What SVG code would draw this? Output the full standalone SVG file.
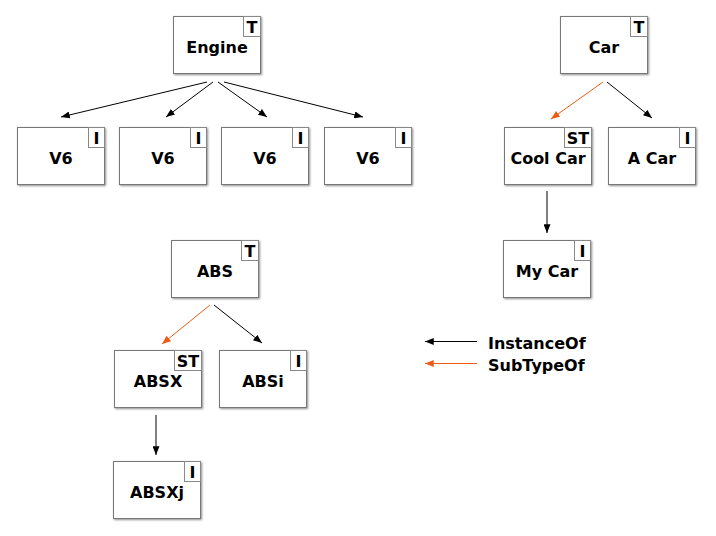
<svg xmlns="http://www.w3.org/2000/svg" width="716" height="536" viewBox="0 0 716 536">
<style>
.box{fill:#fff;stroke:#777;stroke-width:1;filter:url(#sh)}
.badge{fill:#fff;stroke:#888;stroke-width:1}
.lbl{font-family:"DejaVu Sans",Verdana,sans-serif;font-weight:bold;font-size:16px;fill:#000;text-anchor:middle}
.bt{font-family:"DejaVu Sans",Verdana,sans-serif;font-weight:bold;font-size:16px;fill:#000;text-anchor:middle}
.leg{font-family:"DejaVu Sans",Verdana,sans-serif;font-weight:bold;font-size:16px;fill:#000}
.inst{stroke:#000;stroke-width:1;fill:none;marker-end:url(#ab)}
.sub{stroke:#f05a14;stroke-width:1;fill:none;marker-end:url(#ao)}
</style>
<defs>
<filter id="sh" x="-10%" y="-10%" width="125%" height="130%">
<feDropShadow dx="1" dy="1" stdDeviation="1.3" flood-color="#000" flood-opacity="0.45"/>
</filter>
<marker id="ab" viewBox="0 0 10 8" refX="10" refY="4" markerWidth="9" markerHeight="7" markerUnits="userSpaceOnUse" orient="auto">
<path d="M0,0 L10,4 L0,8 Z" fill="#000"/>
</marker>
<marker id="ao" viewBox="0 0 10 8" refX="10" refY="4" markerWidth="9" markerHeight="7" markerUnits="userSpaceOnUse" orient="auto">
<path d="M0,0 L10,4 L0,8 Z" fill="#f05a14"/>
</marker>
</defs>
<rect width="716" height="536" fill="#fff"/>
<g id="connectors">
<line class="inst" x1="207" y1="82" x2="61" y2="117"/>
<line class="inst" x1="213" y1="82" x2="166" y2="117"/>
<line class="inst" x1="218" y1="82" x2="267" y2="117"/>
<line class="inst" x1="224" y1="82" x2="363" y2="117"/>
<line class="sub" x1="603" y1="82" x2="551" y2="119"/>
<line class="inst" x1="607" y1="82" x2="652" y2="118"/>
<line class="inst" x1="547" y1="191" x2="547" y2="233"/>
<line class="sub" x1="210" y1="305" x2="162" y2="344"/>
<line class="inst" x1="214" y1="305" x2="262" y2="343"/>
<line class="inst" x1="156" y1="415" x2="156" y2="455"/>
<line class="inst" x1="477" y1="341.5" x2="425" y2="341.5"/>
<line class="sub" x1="477" y1="363.5" x2="425" y2="363.5"/>
</g>
<g id="legend">
<text class="leg" x="488" y="349">InstanceOf</text>
<text class="leg" x="488" y="371">SubTypeOf</text>
</g>
<g id="engine"><rect class="box" x="173.5" y="16.5" width="87" height="57"/><rect class="badge" x="243.5" y="16.5" width="17" height="20"/><text class="bt" x="252" y="33">T</text><text class="lbl" x="217" y="53">Engine</text></g>
<g id="car"><rect class="box" x="560.5" y="16.5" width="87" height="57"/><rect class="badge" x="630.5" y="16.5" width="17" height="20"/><text class="bt" x="639" y="33">T</text><text class="lbl" x="604" y="53">Car</text></g>
<g id="v6a"><rect class="box" x="17.5" y="127.5" width="87" height="57"/><rect class="badge" x="88.5" y="127.5" width="16" height="20"/><text class="bt" x="96.5" y="144">I</text><text class="lbl" x="61" y="164">V6</text></g>
<g id="v6b"><rect class="box" x="119.5" y="127.5" width="87" height="57"/><rect class="badge" x="190.5" y="127.5" width="16" height="20"/><text class="bt" x="198.5" y="144">I</text><text class="lbl" x="163" y="164">V6</text></g>
<g id="v6c"><rect class="box" x="221.5" y="127.5" width="87" height="57"/><rect class="badge" x="292.5" y="127.5" width="16" height="20"/><text class="bt" x="300.5" y="144">I</text><text class="lbl" x="265" y="164">V6</text></g>
<g id="v6d"><rect class="box" x="324.5" y="127.5" width="87" height="57"/><rect class="badge" x="395.5" y="127.5" width="16" height="20"/><text class="bt" x="403.5" y="144">I</text><text class="lbl" x="368" y="164">V6</text></g>
<g id="coolcar"><rect class="box" x="504.5" y="127.5" width="87" height="57"/><rect class="badge" x="564.5" y="127.5" width="27" height="20"/><text class="bt" x="578" y="144">ST</text><text class="lbl" x="548" y="164">Cool Car</text></g>
<g id="acar"><rect class="box" x="608.5" y="127.5" width="87" height="57"/><rect class="badge" x="679.5" y="127.5" width="16" height="20"/><text class="bt" x="687.5" y="144">I</text><text class="lbl" x="652" y="164">A Car</text></g>
<g id="mycar"><rect class="box" x="503.5" y="240.5" width="87" height="57"/><rect class="badge" x="574.5" y="240.5" width="16" height="20"/><text class="bt" x="582.5" y="257">I</text><text class="lbl" x="547" y="277">My Car</text></g>
<g id="abs"><rect class="box" x="171.5" y="240.5" width="87" height="57"/><rect class="badge" x="241.5" y="240.5" width="17" height="20"/><text class="bt" x="250" y="257">T</text><text class="lbl" x="215" y="277">ABS</text></g>
<g id="absx"><rect class="box" x="114.5" y="350.5" width="87" height="57"/><rect class="badge" x="174.5" y="350.5" width="27" height="20"/><text class="bt" x="188" y="367">ST</text><text class="lbl" x="158" y="387">ABSX</text></g>
<g id="absi"><rect class="box" x="219.5" y="350.5" width="87" height="57"/><rect class="badge" x="290.5" y="350.5" width="16" height="20"/><text class="bt" x="298.5" y="367">I</text><text class="lbl" x="263" y="387">ABSi</text></g>
<g id="absxj"><rect class="box" x="113.5" y="461.5" width="87" height="57"/><rect class="badge" x="184.5" y="461.5" width="16" height="20"/><text class="bt" x="192.5" y="478">I</text><text class="lbl" x="157" y="498">ABSXj</text></g>
</svg>
